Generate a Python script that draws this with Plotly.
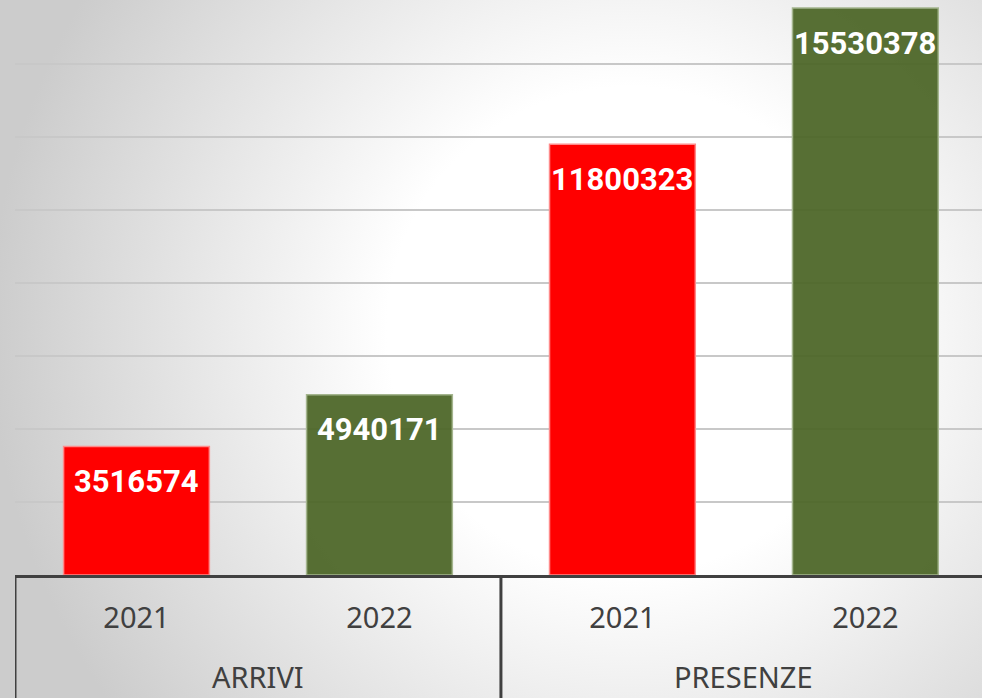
import base64
import plotly.graph_objects as go

groups = ["ARRIVI", "ARRIVI", "PRESENZE", "PRESENZE"]
years = ["2021", "2022", "2021", "2022"]
values = [3516574, 4940171, 11800323, 15530378]
bar_colors = ["#FF0000", "rgba(78,103,41,0.95)", "#FF0000", "rgba(78,103,41,0.95)"]
line_colors = ["#FF8A8A", "#A4B58E", "#FF8A8A", "#A4B58E"]

W, H = 982, 698
ML, MR, MT, MB = 15, 0, 0, 123
pw, ph = W - ML - MR, H - MT - MB

pos = list(range(len(values)))

svg = f'''<svg xmlns="http://www.w3.org/2000/svg" width="{W}" height="{H}" viewBox="0 0 {W} {H}">
<defs><radialGradient id="g" cx="630" cy="330" r="640" gradientUnits="userSpaceOnUse">
<stop offset="0" stop-color="#ffffff"/><stop offset="0.38" stop-color="#ffffff"/>
<stop offset="1" stop-color="#cccccc"/></radialGradient></defs>
<rect width="{W}" height="{H}" fill="url(#g)"/></svg>'''
src = "data:image/svg+xml;base64," + base64.b64encode(svg.encode()).decode()

fig = go.Figure()
fig.add_trace(go.Bar(
    x=pos, y=values,
    marker=dict(color=bar_colors, line=dict(color=line_colors, width=1.5)),
    width=0.6, hoverinfo="skip",
))

for p, v in zip(pos, values):
    fig.add_annotation(x=p, y=v, xref="x", yref="y",
                       text=str(v), showarrow=False, yanchor="middle", yshift=-35,
                       font=dict(family="Roboto", size=31, color="white", weight="bold"))

# group labels and box dividers
group_names = list(dict.fromkeys(groups))
bounds = [-0.5]
for g in group_names:
    idx = [p for p, gg in zip(pos, groups) if gg == g]
    fig.add_annotation(x=sum(idx) / len(idx), y=-101 / ph, xref="x", yref="paper",
                       text=g, showarrow=False, yanchor="middle",
                       font=dict(family="Noto Sans", size=29, color="#404040"))
    bounds.append(max(idx) + 0.5)
shapes = []
for b in bounds:
    shapes.append(dict(type="line", xref="x", yref="paper", x0=b, x1=b, y0=0, y1=-MB / ph - 0.05,
                       line=dict(color="#404040", width=3)))

fig.update_layout(
    width=W, height=H,
    margin=dict(l=ML, r=MR, t=MT, b=MB, pad=0),
    paper_bgcolor="white", plot_bgcolor="rgba(0,0,0,0)",
    showlegend=False,
    shapes=shapes,
    images=[dict(source=src, xref="paper", yref="paper",
                 x=-ML / pw, y=1 + MT / ph, sizex=W / pw, sizey=H / ph,
                 xanchor="left", yanchor="top", sizing="stretch", layer="below")],
    xaxis=dict(range=[-0.5, 3.48], tickvals=pos, ticktext=years,
               showline=True, linecolor="#404040", linewidth=3,
               tickfont=dict(family="Noto Sans", size=29, color="#404040"),
               ticks="outside", ticklen=15, tickcolor="rgba(0,0,0,0)",
               showgrid=False, zeroline=False, fixedrange=True),
    yaxis=dict(range=[0, 15.75e6], dtick=2e6, showticklabels=False,
               showgrid=True, gridcolor="#C8C8C8", gridwidth=1.5,
               zeroline=False, showline=False, fixedrange=True),
)

fig.write_html("out.html", config={"displayModeBar": False},
               post_script="document.body.style.margin='0';document.body.style.overflow='hidden';")
